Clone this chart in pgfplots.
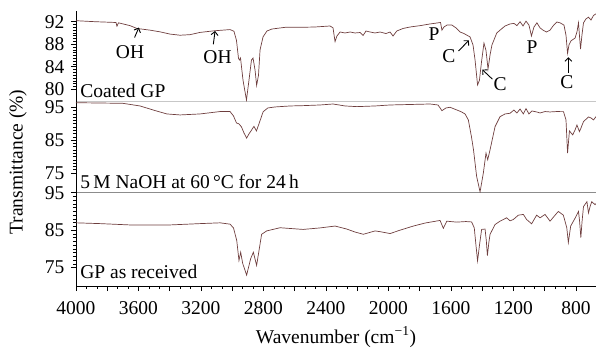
\documentclass[border=0pt]{standalone}
\usepackage{fontspec}
\setmainfont{Liberation Serif}
\usepackage{pgfplots}
\pgfplotsset{compat=1.18}
\usetikzlibrary{arrows.meta}
\definecolor{spec}{RGB}{110,62,62}
\newcommand\fs{\fontsize{19.5bp}{22bp}\selectfont}
\tikzset{ann/.style={-{Straight Barb[length=3.5bp,width=7bp]}, line width=0.9pt}}
\pgfplotsset{
  panel/.style={
    scale only axis, width=520bp,
    xmin=672, xmax=4000, x dir=reverse,
    axis x line=bottom, axis y line=left,
    axis line style={-},
    y axis line style={black, line width=0.9pt},
    tick align=outside,
    major tick length=5bp, minor tick length=3bp,
    every tick/.style={black, line width=0.8pt},
    every minor tick/.style={black, line width=0.6pt},
    tick label style={font=\fs},
    /pgf/number format/assume math mode=true,
    clip=true,
  },
  spec/.style={color=spec, line width=0.7pt, no marks},
}
\begin{document}
\fs
\begin{tikzpicture}
\path[use as bounding box] (-76bp,-63bp) rectangle (520bp,286bp);

% ---------------- bottom panel: GP as received
\begin{axis}[panel, at={(0,0)}, anchor=south west, height=93.3bp,
  ymin=70.1, ymax=95.0, ytick={75,85,95}, minor y tick num=9,
  x axis line style={black, line width=0.9pt},
  xtick={800,1000,...,4000}, minor x tick num=2,
  xticklabels={800,,1200,,1600,,2000,,2400,,2800,,3200,,3600,,4000},
  xticklabel style={yshift=-4bp},
]
\addplot[spec] coordinates {
(4000,86.96)(3846,86.75)(3635,86.36)(3418,86.36)(3206,86.75)(3078,86.96)(3014,86.6)
(2992,85.6)(2971,82.2)(2957,76.9)(2946,79.1)(2933,76.1)(2908,73.0)(2882,77.4)(2865,79.1)
(2844,75.6)(2827,80.0)(2812,83.9)(2780,84.8)(2694,85.65)(2547,85.2)(2438,85.6)(2342,86.1)
(2267,85.3)(2214,84.5)(2161,83.9)(2086,84.8)(2054,84.6)(1990,84.1)(1926,85.0)(1841,86.1)
(1766,86.9)(1670,87.6)(1649,85.5)(1627,87.4)(1564,87.15)(1504,87.3)(1468,87.2)(1451,85.6)
(1440,80.9)(1430,76.8)(1418,80.9)(1404,85.2)(1382,85.3)(1374,82.2)(1367,78.2)(1358,81.6)
(1350,83.9)(1318,86.5)(1286,87.4)(1244,88.3)(1222,87.5)(1201,87.85)(1169,89.0)(1137,89.2)
(1116,87.85)(1084,86.7)(1052,89.0)(1030,88.3)(998,89.2)(966,87.4)(934,89.0)(913,90.0)
(881,89.0)(859,85.65)(849,81.7)(834,86.1)(806,88.2)(784,90.0)(777,87.4)(769,83.0)
(761,87.4)(752,91.3)(730,92.6)(720,89.6)(710,91.3)(699,92.6)(678,91.8)(672,92.1)
};
\node[anchor=west, font=\fs, inner sep=0pt] at (rel axis cs:0.008,0.15) {GP as received};
\end{axis}

% ---------------- middle panel: NaOH
\begin{axis}[panel, at={(0,93.3bp)}, anchor=south west, height=91bp,
  ymin=69.0, ymax=96.7, ytick={75,85,95}, minor y tick num=9,
  x axis line style={black!45, line width=0.7pt},
  xtick=\empty,
]
\addplot[spec] coordinates {
(4000,96.39)(3846,96.3)(3699,96.2)(3590,95.4)(3494,94.0)(3418,92.97)(3334,92.67)(3206,92.97)
(3078,93.7)(3014,93.7)(2992,92.36)(2973,90.24)(2957,89.94)(2941,89.03)(2925,87.2)(2908,85.6)
(2893,86.9)(2880,87.8)(2861,89.2)(2845,87.8)(2827,90.24)(2802,93.67)(2772,94.8)(2726,95.1)
(2630,95.4)(2547,95.5)(2438,95.7)(2355,96.0)(2278,95.4)(2202,95.2)(2086,95.4)(1990,95.7)
(1862,95.85)(1734,96.0)(1683,95.7)(1658,93.97)(1632,94.8)(1606,95.0)(1564,94.2)(1536,93.67)
(1510,92.97)(1489,91.15)(1469,86.0)(1456,82.06)(1436,73.97)(1414,69.24)(1393,75.0)(1376,81.06)
(1365,79.03)(1350,82.06)(1318,89.12)(1286,92.15)(1254,92.97)(1222,93.18)(1197,94.18)(1178,93.27)
(1158,94.48)(1137,92.97)(1120,94.6)(1101,92.97)(1082,93.88)(1052,93.58)(1030,93.27)(998,93.7)
(966,93.58)(923,93.7)(880,93.67)(864,91.15)(854,81.06)(842,87.8)(821,86.6)(806,88.1)
(794,89.6)(778,87.6)(768,88.7)(752,90.64)(720,92.06)(704,91.76)(688,91.15)(672,92.15)
};
\node[anchor=west, font=\fs, inner sep=0pt] at (rel axis cs:0.008,0.118) {5\,M NaOH at 60\,°C for 24\,h};
\end{axis}

% ---------------- top panel: Coated GP
\begin{axis}[panel, at={(0,184.3bp)}, anchor=south west, height=90.7bp,
  ymin=77.8, ymax=93.9, ytick={80,84,88,92}, minor y tick num=7,
  x axis line style={black!22, line width=1.6pt},
  xtick=\empty,
]
\addplot[spec] coordinates {
(4000,92.18)(3878,92.0)(3782,91.9)(3744,91.86)(3738,91.2)(3728,91.8)(3654,91.3)(3610,90.8)
(3526,90.5)(3462,90.2)(3398,89.8)(3334,89.6)(3270,89.7)(3206,90.1)(3110,90.4)(3014,90.6)
(2989,90.3)(2973,88.7)(2960,85.5)(2954,85.2)(2947,85.55)(2931,81.6)(2909,78.1)(2893,81.6)
(2877,85.2)(2867,85.55)(2854,83.4)(2844,80.7)(2832,82.5)(2822,87.0)(2803,89.3)(2778,90.35)
(2746,90.7)(2662,91.0)(2566,91.0)(2470,91.06)(2374,91.24)(2355,90.9)(2342,88.45)(2330,89.46)
(2310,90.17)(2278,90.0)(2246,90.17)(2214,90.0)(2182,90.08)(2163,89.55)(2144,90.35)(2118,90.17)
(2086,90.0)(2054,90.17)(2016,89.9)(1990,90.17)(1971,89.46)(1947,90.35)(1907,90.8)(1862,91.06)
(1798,91.3)(1734,91.6)(1683,91.8)(1667,91.86)(1658,90.5)(1645,91.06)(1626,91.4)(1594,91.4)
(1568,90.9)(1542,90.17)(1517,89.9)(1498,89.6)(1478,89.3)(1459,87.86)(1446,85.2)(1430,80.76)
(1418,81.6)(1405,84.8)(1389,88.2)(1376,86.9)(1363,83.6)(1350,86.1)(1338,87.86)(1307,90.0)
(1286,90.5)(1254,91.24)(1222,91.6)(1197,91.7)(1178,91.3)(1158,92.0)(1139,91.24)(1120,92.1)
(1101,91.4)(1085,89.46)(1069,91.06)(1050,91.8)(1030,90.9)(1011,90.5)(989,90.17)(966,90.5)
(947,91.24)(923,91.95)(902,91.8)(877,91.4)(864,89.6)(854,86.4)(845,87.86)(832,88.6)
(806,89.1)(794,90.17)(784,91.8)(778,89.6)(771,87.15)(762,89.6)(752,91.8)(736,92.5)
(720,92.8)(704,92.3)(688,93.1)(672,93.4)
};
\node[anchor=west, font=\fs, inner sep=0pt] at (rel axis cs:0.008,0.12) {Coated GP};
\node[font=\fs] at (axis cs:3654,86.6) {OH};
\draw[ann] (axis cs:3625,89.2) -- (axis cs:3598,90.95);
\node[font=\fs] at (axis cs:3094,85.64) {OH};
\draw[ann] (axis cs:3121,88.0) -- (axis cs:3110,90.35);
\node[font=\fs] at (axis cs:1709,89.8) {P};
\node[font=\fs] at (axis cs:1613,85.9) {C};
\draw[ann] (axis cs:1552,86.8) -- (axis cs:1485,88.7);
\node[font=\fs] at (axis cs:1286,80.9) {C};
\draw[ann] (axis cs:1335,81.8) -- (axis cs:1400,83.5);
\node[font=\fs] at (axis cs:1082,87.5) {P};
\node[font=\fs] at (axis cs:858,81.2) {C};
\draw[ann] (axis cs:849,82.9) -- (axis cs:849,85.7);
\end{axis}

\node[rotate=90, font=\fs] at (-58bp,124bp) {Transmittance (\%)};
\node[font=\fs] at (260bp,-51bp) {Wavenumber (cm\textsuperscript{−1})};
\end{tikzpicture}
\end{document}
